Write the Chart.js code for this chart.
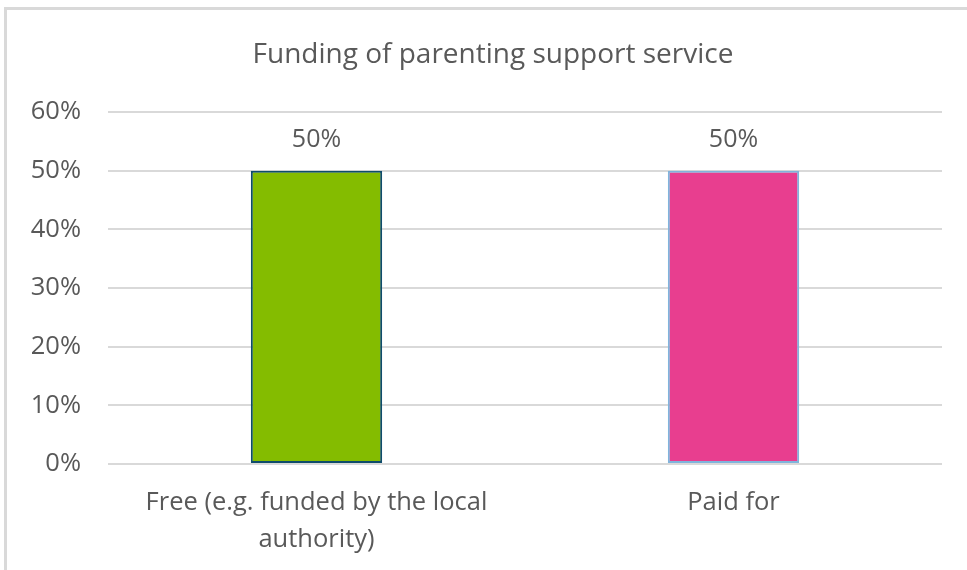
<!DOCTYPE html>
<html>
<head>
<meta charset="utf-8">
<script src="https://cdn.jsdelivr.net/npm/chart.js@4"></script>
<style>
  body { margin: 0; background: #fff; }
  .frame {
    position: absolute; left: 4px; top: 7px; width: 980px; height: 580px;
    border-top: 3px solid #d9d9d9; border-left: 3px solid #d9d9d9;
  }
  canvas { position: absolute; left: 0; top: 0; }
</style>
</head>
<body>
<div class="frame"></div>
<canvas id="chartFunding" width="967" height="570"></canvas>
<script>
const chartTitle = 'Funding of parenting support service';
const categories = [['Free (e.g. funded by the local', 'authority)'], 'Paid for'];
const shares = [0.5, 0.5];
const fills = ['#84bc00', '#e83e8f'];
const outlines = ['#0f4c6b', '#80b4dc'];
const tickValues = [0, 0.1, 0.2, 0.3, 0.4, 0.5, 0.6];

const textGrey = '#595959';
const fmtPct = v => Math.round(v * 100) + '%';

// title is centred on the whole frame, not on the plot, so it is drawn by hand
const frameTitle = {
  id: 'frameTitle',
  afterDraw(chart) {
    const ctx = chart.ctx;
    ctx.save();
    ctx.font = '28px "Open Sans"';
    ctx.fillStyle = textGrey;
    ctx.textAlign = 'center';
    ctx.textBaseline = 'middle';
    ctx.fillText(chartTitle, 493, 55);
    ctx.restore();
  }
};

// writes the value above each bar
const valueLabels = {
  id: 'valueLabels',
  afterDatasetsDraw(chart) {
    const ctx = chart.ctx;
    ctx.save();
    ctx.font = '25px "Open Sans"';
    ctx.fillStyle = textGrey;
    ctx.textAlign = 'center';
    ctx.textBaseline = 'middle';
    chart.getDatasetMeta(0).data.forEach((bar, i) => {
      ctx.fillText(fmtPct(shares[i]), bar.x, bar.y - 31);
    });
    ctx.restore();
  }
};

new Chart(document.getElementById('chartFunding').getContext('2d'), {
  type: 'bar',
  data: {
    labels: categories,
    datasets: [{
      data: shares,
      backgroundColor: fills,
      borderColor: outlines,
      borderWidth: 2,
      borderSkipped: false,
      categoryPercentage: 1,
      barPercentage: 0.315
    }]
  },
  options: {
    responsive: false,
    animation: false,
    layout: { padding: { left: 0, right: 25, top: 112, bottom: 0 } },
    plugins: {
      legend: { display: false },
      tooltip: { enabled: false },
      title: { display: false }
    },
    scales: {
      x: {
        grid: { display: false },
        border: { display: false },
        ticks: {
          color: textGrey,
          font: { family: 'Open Sans', size: 25.5, lineHeight: 1.45 },
          padding: 12,
          maxRotation: 0,
          autoSkip: false
        },
        afterFit(scale) { scale.height = 106; }
      },
      y: {
        min: 0,
        max: 0.6,
        afterBuildTicks(scale) { scale.ticks = tickValues.map(v => ({ value: v })); },
        grid: { color: '#d9d9d9', lineWidth: 2, drawTicks: false },
        border: { display: false },
        ticks: {
          color: textGrey,
          font: { family: 'Open Sans', size: 25.5 },
          padding: 27,
          callback: v => fmtPct(v)
        },
        afterFit(scale) { scale.width = 108; }
      }
    }
  },
  plugins: [valueLabels, frameTitle]
});
</script>
</body>
</html>
